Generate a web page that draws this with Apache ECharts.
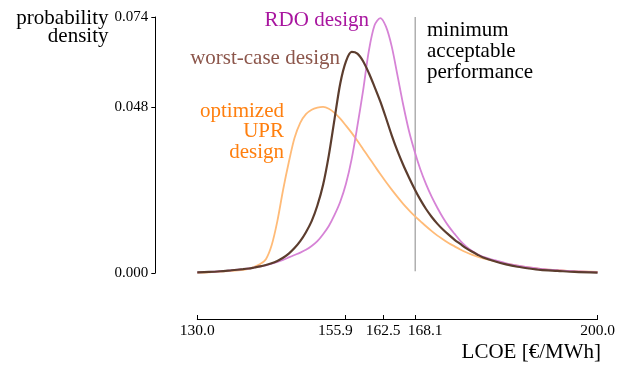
<!DOCTYPE html>
<html>
<head>
<meta charset="utf-8">
<script src="https://cdn.jsdelivr.net/npm/echarts@6/dist/echarts.min.js"></script>
<style>
  html, body { margin: 0; padding: 0; background: #ffffff; }
  #chart { width: 618px; height: 367px; }
</style>
</head>
<body>
<div id="chart"></div>
<script>
// LCOE grid shared by all three density curves (€/MWh)
const lcoe = [130, 132, 134, 136,
  138, 139, 140, 141, 142, 143, 144, 145, 146, 147, 148, 149, 150, 151, 152, 153, 154, 155, 156, 157, 158, 159,
  160, 161, 162, 163, 164, 165, 166, 167, 168, 169, 170, 171, 172, 173, 174, 175, 176, 177, 178, 179, 180,
  182, 184, 186, 188, 190, 193, 196, 200];

// Probability density of each design
const uprDensity = [0.0001, 0.0002, 0.0004, 0.0006,
  0.0009, 0.0012, 0.0018, 0.0026, 0.0040, 0.0080, 0.0150, 0.0240, 0.0320, 0.0390, 0.0434, 0.0459, 0.0472, 0.0478, 0.0480, 0.0475, 0.0463, 0.0446, 0.0426, 0.0405, 0.0382, 0.0358,
  0.0334, 0.0310, 0.0286, 0.0263, 0.0241, 0.0220, 0.0200, 0.0182, 0.0165, 0.0150, 0.0135, 0.0121, 0.0108, 0.0097, 0.0086, 0.0077, 0.0068, 0.0060, 0.0053, 0.0047, 0.0042,
  0.0034, 0.0027, 0.0021, 0.0016, 0.0012, 0.0008, 0.0005, 0.0003];

const worstCaseDensity = [0.0002, 0.0003, 0.0005, 0.0008,
  0.0011, 0.0013, 0.0016, 0.0019, 0.0023, 0.0028, 0.0035, 0.0044, 0.0056, 0.0072, 0.0092, 0.0118, 0.0150, 0.0195, 0.0255, 0.0340, 0.0445, 0.0548, 0.0612, 0.0639, 0.0634, 0.0612,
  0.0578, 0.0538, 0.0496, 0.0448, 0.0398, 0.0353, 0.0313, 0.0277, 0.0243, 0.0212, 0.0185, 0.0162, 0.0142, 0.0125, 0.0110, 0.0096, 0.0084, 0.0072, 0.0062, 0.0053, 0.0045,
  0.0034, 0.0025, 0.0018, 0.0013, 0.0009, 0.0006, 0.0003, 0.0001];

const rdoDensity = [0.0002, 0.0003, 0.0005, 0.0008,
  0.0011, 0.0013, 0.0016, 0.0019, 0.0022, 0.0027, 0.0032, 0.0038, 0.0045, 0.0052, 0.0059, 0.0067, 0.0078, 0.0092, 0.0112, 0.0136, 0.0168, 0.0206, 0.0258, 0.0330, 0.0425, 0.0528,
  0.0642, 0.0716, 0.0737, 0.0712, 0.0655, 0.0572, 0.0487, 0.0412, 0.0352, 0.0300, 0.0257, 0.0220, 0.0188, 0.0159, 0.0134, 0.0113, 0.0093, 0.0077, 0.0064, 0.0054, 0.0047,
  0.0037, 0.0028, 0.0021, 0.0016, 0.0012, 0.0008, 0.0005, 0.0002];

// Minimum acceptable performance threshold
const thresholdLcoe = 168.1;
const thresholdSpan = [0.0005, 0.074];

// Axis tick values
const xTicks = [130, 155.9, 162.5, 168.1, 200];
const yTicks = [0, 0.048, 0.074];

const pairs = (ys) => lcoe.map((x, i) => [x, ys[i]]);

const SERIF = '"Liberation Serif", "DejaVu Serif", serif';

// Crowded tick labels next to 162.5 are nudged apart
function xLabel(v) {
  const s = v.toFixed(1);
  if (v === 155.9) return '{l|' + s + '}';
  if (v === 168.1) return '{r|' + s + '}';
  return s;
}

const chart = echarts.init(document.getElementById('chart'), null, { renderer: 'canvas' });

chart.setOption({
  animation: false,
  backgroundColor: '#ffffff',
  grid: { left: 197.3, right: 18.7, top: 17, bottom: 94, containLabel: false },
  xAxis: {
    type: 'value',
    min: 130,
    max: 200,
    offset: 46,
    splitLine: { show: false },
    axisLine: { show: true, onZero: false, lineStyle: { color: '#000', width: 1 } },
    axisTick: { show: true, inside: true, length: 4, customValues: xTicks, lineStyle: { color: '#000' } },
    axisLabel: {
      customValues: xTicks,
      formatter: xLabel,
      fontFamily: SERIF, fontSize: 15.5, color: '#000', margin: 4,
      rich: {
        l: { fontFamily: SERIF, fontSize: 15.5, color: '#000', padding: [0, 20, 0, 0] },
        r: { fontFamily: SERIF, fontSize: 15.5, color: '#000', padding: [0, 0, 0, 20] }
      }
    }
  },
  yAxis: {
    type: 'value',
    min: 0,
    max: 0.074,
    offset: 42,
    splitLine: { show: false },
    axisLine: { show: true, onZero: false, lineStyle: { color: '#000', width: 1 } },
    axisTick: { show: true, inside: false, length: 4, customValues: yTicks, lineStyle: { color: '#000' } },
    axisLabel: {
      customValues: yTicks,
      formatter: (v) => v.toFixed(3),
      fontFamily: SERIF, fontSize: 15, color: '#000', margin: 7
    }
  },
  series: [
    {
      name: 'optimized UPR design', type: 'line', data: pairs(uprDensity),
      smooth: 0.3, showSymbol: false,
      lineStyle: { color: '#ffbb78', width: 1.8 }, z: 2
    },
    {
      name: 'RDO design', type: 'line', data: pairs(rdoDensity),
      smooth: 0.3, showSymbol: false,
      lineStyle: { color: '#d683d6', width: 1.8 }, z: 3
    },
    {
      name: 'worst-case design', type: 'line', data: pairs(worstCaseDensity),
      smooth: 0.3, showSymbol: false,
      lineStyle: { color: '#5c3d2e', width: 2.2 }, z: 4
    },
    {
      name: 'minimum acceptable performance', type: 'line',
      data: thresholdSpan.map((y) => [thresholdLcoe, y]),
      showSymbol: false,
      lineStyle: { color: '#888888', width: 1 }, z: 1
    }
  ],
  graphic: [
    {
      type: 'text', x: 108.5, y: 9,
      style: { text: 'probability\ndensity', align: 'right', verticalAlign: 'top',
        font: '21px ' + SERIF, lineHeight: 18, fill: '#000' }
    },
    {
      type: 'text', x: 601, y: 352,
      style: { text: 'LCOE [€/MWh]', align: 'right', verticalAlign: 'middle',
        font: '21px ' + SERIF, fill: '#000' }
    },
    {
      type: 'text', x: 369, y: 20,
      style: { text: 'RDO design', align: 'right', verticalAlign: 'middle',
        font: '21px ' + SERIF, fill: '#a8159f' }
    },
    {
      type: 'text', x: 340, y: 58.5,
      style: { text: 'worst-case design', align: 'right', verticalAlign: 'middle',
        font: '21px ' + SERIF, fill: '#8c564b' }
    },
    {
      type: 'text', x: 284, y: 101,
      style: { text: 'optimized\nUPR\ndesign', align: 'right', verticalAlign: 'top',
        font: '21px ' + SERIF, lineHeight: 20.5, fill: '#ff7f0e' }
    },
    {
      type: 'text', x: 427, y: 20,
      style: { text: 'minimum\nacceptable\nperformance', align: 'left', verticalAlign: 'top',
        font: '21px ' + SERIF, lineHeight: 21, fill: '#000' }
    }
  ]
});
</script>
</body>
</html>
